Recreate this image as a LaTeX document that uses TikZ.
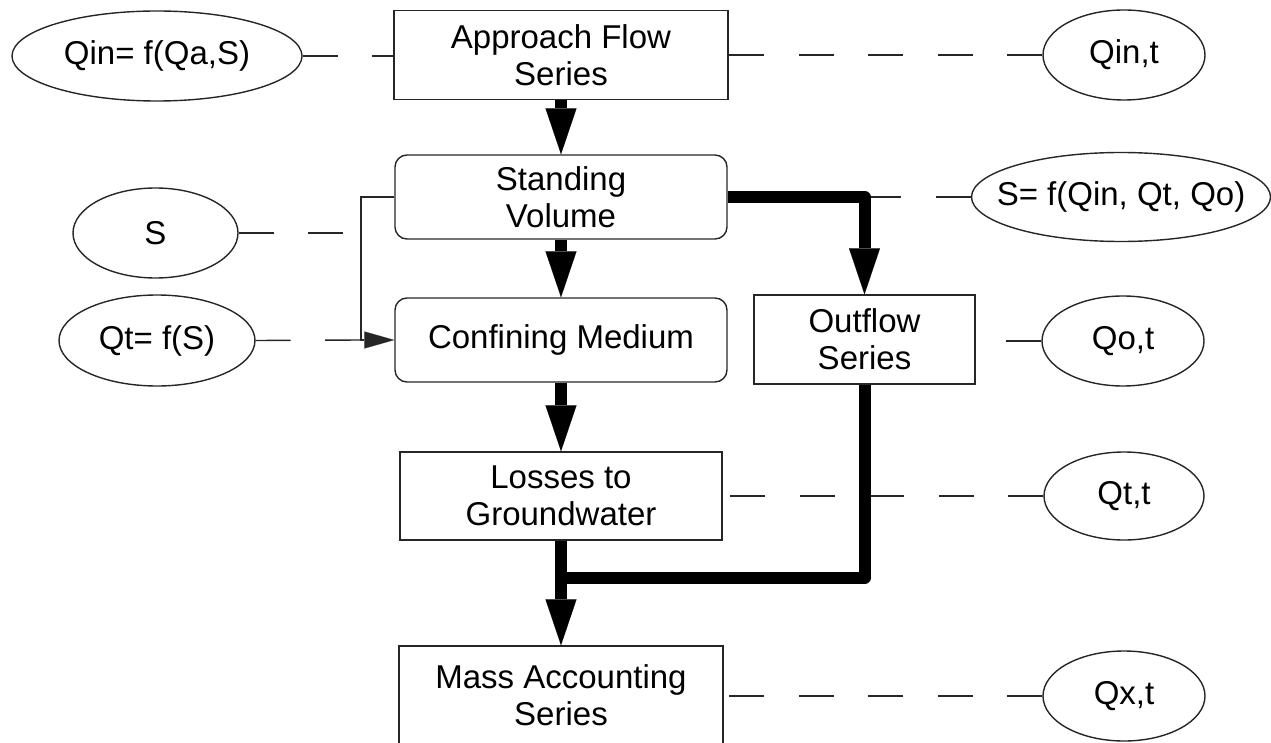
\documentclass[tikz,border=0pt]{standalone}
\usepackage{fontspec}
\setmainfont{Liberation Sans}
\usetikzlibrary{shapes.geometric,arrows.meta}
\newcommand\ztxt[1]{\makebox[0pt]{#1}}
\begin{document}
\begin{tikzpicture}[x=1pt,y=-1pt,
  every node/.style={font=\fontsize{33}{37}\selectfont, inner sep=0pt, align=center},
  thinln/.style={line width=1.4pt, draw=black!85},
  ell/.style={ellipse, thinln, minimum width=#1, minimum height=90pt},
  sqbox/.style={rectangle, thinln},
  rbox/.style={rectangle, rounded corners=12pt, thinln},
  dashln/.style={thinln, dash pattern=on 35pt off 34.5pt},
  flowln/.style={line width=12pt, line join=round},
  flow/.style={flowln, -{Triangle[length=46pt,width=31pt,line width=0.1pt]}},
  thinarrow/.style={thinln, -{Triangle[length=30pt,width=17pt,line width=0.1pt]}},
  ]
\useasboundingbox (0,0) rectangle (1271,743);
\clip (0,0) rectangle (1271,743);

% nodes
\node[ell=290pt] (qin) at (157,56) {\ztxt{Qin= f(Qa,S)}};
\node[sqbox, minimum width=334pt, minimum height=89pt] (approach) at (561,55) {Approach Flow\\Series};
\node[ell=162pt] (qint) at (1124,55) {\ztxt{Qin,t}};
\node[rbox, minimum width=332pt, minimum height=84pt] (standing) at (561,197) {Standing\\Volume};
\node[ell=165pt] (s) at (155.5,233) {\ztxt{S}};
\node[ell=299pt, minimum height=89pt] (sfun) at (1121,197) {\ztxt{S= f(Qin, Qt, Qo)}};
\node[ell=196pt, minimum height=91pt] (qtf) at (157,340.5) {\ztxt{Qt= f(S)}};
\node[rbox, minimum width=332pt, minimum height=84pt] (confining) at (561,340) {Confining Medium};
\node[sqbox, minimum width=221pt, minimum height=89pt] (outflow) at (864.5,339.5) {Outflow\\Series};
\node[ell=162pt] (qot) at (1123,341) {\ztxt{Qo,t}};
\node[sqbox, minimum width=322pt, minimum height=88pt] (losses) at (561,496) {Losses to\\Groundwater};
\node[ell=160pt, minimum height=88pt] (qtt) at (1124,496) {\ztxt{Qt,t}};
\node[sqbox, minimum width=324pt, minimum height=99pt] (mass) at (561,695.5) {Mass Accounting\\Series};
\node[ell=162pt] (qxt) at (1124,696) {\ztxt{Qx,t}};

% helper coordinates
\coordinate (jx) at (361,0);
\coordinate (jm) at (561,578);

% dashed links
\draw[dashln] (qin.east) -- (qin.east -| approach.west);
\draw[dashln] (qint.west) -- (qint.west -| approach.east);
\draw[dashln] (sfun.west) -- (sfun.west -| standing.east);
\draw[dashln] (s.east) -- (s.east -| jx);
\draw[dashln] (qtf.east) -- (confining.west -| jx);
\draw[dashln] (qot.west) -- (qot.west -| outflow.east);
\draw[dashln] (qtt.west) -- (qtt.west -| losses.east);
\draw[dashln] (qxt.west) -- (qxt.west -| mass.east);

% thin bracket
\draw[thinarrow] (standing.west) -- (standing.west -| jx) -- (confining.west -| jx) -- (confining.west);

% thick flows
\draw[flow] (approach.south) -- (standing.north);
\draw[flow] (standing.south) -- (confining.north);
\draw[flow] (confining.south) -- (losses.north);
\draw[flow] (standing.east) -| (outflow.north);
\draw[flowln] (outflow.south) |- (jm);
\draw[flow] (losses.south) -- (mass.north);
\end{tikzpicture}
\end{document}
